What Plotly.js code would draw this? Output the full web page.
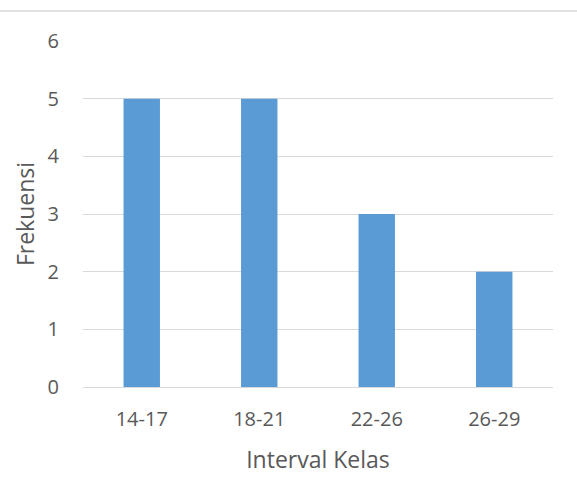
<!DOCTYPE html>
<html>
<head>
<meta charset="utf-8">
<script src="https://cdn.plot.ly/plotly-3.0.1.min.js"></script>
<style>
  html, body { margin: 0; padding: 0; background: #ffffff; }
  #chart { width: 577px; height: 499px; }
</style>
</head>
<body>
<div id="chart"></div>
<script>
// Frequency per class interval
const categories = ['14-17', '18-21', '22-26', '26-29'];
const frekuensi = [5, 5, 3, 2];
const yTicks = [0, 1, 2, 3, 4, 5, 6];

const textColor = '#595959';
const gridColor = '#d9d9d9';
const fontFamily = '"Open Sans", "Noto Sans", sans-serif';

const trace = {
  type: 'bar',
  x: categories,
  y: frekuensi,
  marker: { color: '#5b9bd5' },
  hoverinfo: 'x+y'
};

const layout = {
  width: 577,
  height: 499,
  margin: { l: 83, r: 24, t: 41, b: 112 },
  paper_bgcolor: '#ffffff',
  plot_bgcolor: '#ffffff',
  bargap: 0.69,
  showlegend: false,
  font: { family: fontFamily, color: textColor, size: 20 },
  xaxis: {
    type: 'category',
    showgrid: false,
    showline: false,
    zeroline: false,
    ticks: '',
    ticklabelstandoff: 18,
    tickfont: { size: 20, color: textColor },
    title: { text: 'Interval Kelas', font: { size: 23, color: textColor }, standoff: 20 }
  },
  yaxis: {
    range: [0, 6],
    tickvals: yTicks,
    showgrid: true,
    gridcolor: gridColor,
    gridwidth: 1,
    zeroline: true,
    zerolinecolor: gridColor,
    zerolinewidth: 1,
    showline: false,
    ticks: '',
    ticklabelstandoff: 23,
    tickfont: { size: 20, color: textColor },
    title: { text: 'Frekuensi', font: { size: 23, color: textColor }, standoff: 6 }
  },
  shapes: [{
    type: 'line',
    xref: 'paper', yref: 'paper',
    x0: -0.2, x1: 1.1,
    y0: 1.087, y1: 1.087,
    line: { color: gridColor, width: 1.5 }
  }]
};

Plotly.newPlot('chart', [trace], layout, { displayModeBar: false, staticPlot: true });
</script>
</body>
</html>
